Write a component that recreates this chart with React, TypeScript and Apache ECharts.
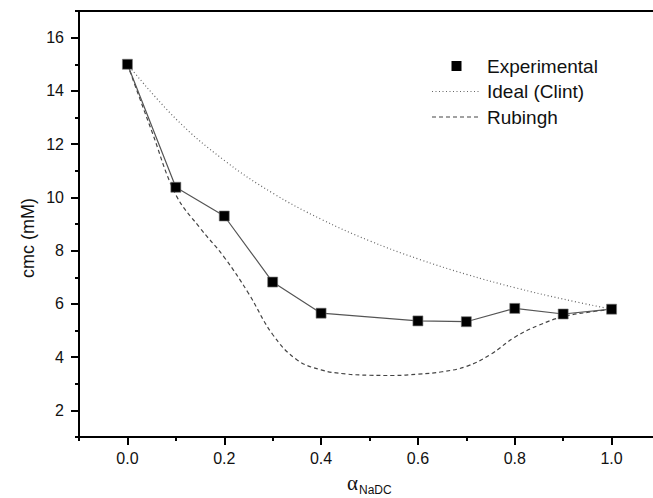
import React, { useEffect, useRef } from "react";
import * as echarts from "echarts";

// ---- data ----
const expX = [0.0, 0.1, 0.2, 0.3, 0.4, 0.6, 0.7, 0.8, 0.9, 1.0];
const expCmc = [15.0, 10.38, 9.3, 6.82, 5.65, 5.36, 5.33, 5.83, 5.62, 5.8];

const clintX = [0.0, 0.1, 0.2, 0.3, 0.4, 0.5, 0.6, 0.7, 0.8, 0.9, 1.0];
const clintCmc = [15.0, 12.95, 11.39, 10.16, 9.18, 8.37, 7.69, 7.11, 6.61, 6.18, 5.8];

const rubX = [0.0, 0.05, 0.1, 0.15, 0.2, 0.25, 0.3, 0.35, 0.4, 0.45, 0.5, 0.55, 0.6, 0.65, 0.7, 0.75, 0.8, 0.85, 0.9, 0.95, 1.0];
const rubCmc = [15.0, 12.5, 10.1, 8.85, 7.75, 6.4, 4.85, 3.9, 3.52, 3.37, 3.32, 3.31, 3.36, 3.45, 3.65, 4.1, 4.75, 5.2, 5.52, 5.68, 5.8];

const xMajorTicks = [0.0, 0.2, 0.4, 0.6, 0.8, 1.0];
const xMinorTicks = [-0.1, 0.1, 0.3, 0.5, 0.7, 0.9, 1.1];
const yMajorTicks = [2, 4, 6, 8, 10, 12, 14, 16];
const yMinorTicks = [1, 3, 5, 7, 9, 11, 13, 15, 17];

const legendNames = ["Experimental", "Ideal (Clint)", "Rubingh"];

const FONT = "Liberation Sans, Arial, sans-serif";

export default function App() {
  const ref = useRef<HTMLDivElement>(null);

  useEffect(() => {
    if (!ref.current) return;
    const chart = echarts.init(ref.current, undefined, { renderer: "svg" });

    const pairs = (xs: number[], ys: number[]) => xs.map((x, i) => [x, ys[i]]);

    const gridL = 79, gridT = 11, gridW = 581, gridH = 426;

    const option: any = {
      animation: false,
      backgroundColor: "#fff",
      grid: {
        left: gridL,
        top: gridT,
        width: gridW,
        height: gridH,
        show: true,
        borderColor: "#000",
        borderWidth: 2,
      },
      xAxis: [
        {
          type: "value",
          min: -0.1,
          max: 1.1,
          position: "bottom",
          axisLine: { show: true, onZero: false, lineStyle: { color: "#000", width: 2 } },
          axisTick: { show: true, customValues: xMajorTicks, length: 8, lineStyle: { color: "#000", width: 2 } },
          axisLabel: {
            show: true,
            customValues: xMajorTicks,
            formatter: (v: number) => v.toFixed(1),
            fontFamily: FONT,
            fontSize: 16,
            color: "#111",
            margin: 13,
          },
          splitLine: { show: false },
        },
        {
          type: "value",
          min: -0.1,
          max: 1.1,
          position: "bottom",
          axisLine: { show: false, onZero: false },
          axisTick: { show: true, customValues: xMinorTicks, length: 4, lineStyle: { color: "#000", width: 2 } },
          axisLabel: { show: false },
          splitLine: { show: false },
        },
      ],
      yAxis: [
        {
          type: "value",
          min: 1,
          max: 17,
          position: "left",
          axisLine: { show: true, onZero: false, lineStyle: { color: "#000", width: 2 } },
          axisTick: { show: true, customValues: yMajorTicks, length: 8, lineStyle: { color: "#000", width: 2 } },
          axisLabel: {
            show: true,
            customValues: yMajorTicks,
            fontFamily: FONT,
            fontSize: 16,
            color: "#111",
            margin: 15,
          },
          splitLine: { show: false },
        },
        {
          type: "value",
          min: 1,
          max: 17,
          position: "left",
          axisLine: { show: false, onZero: false },
          axisTick: { show: true, customValues: yMinorTicks, length: 4, lineStyle: { color: "#000", width: 2 } },
          axisLabel: { show: false },
          splitLine: { show: false },
        },
      ],
      series: [
        {
          name: legendNames[1],
          type: "line",
          data: pairs(clintX, clintCmc),
          smooth: 0.4,
          showSymbol: false,
          lineStyle: { color: "#666", width: 1.2, type: [1, 2.5] },
          z: 2,
        },
        {
          name: legendNames[2],
          type: "line",
          data: pairs(rubX, rubCmc),
          smooth: 0.4,
          showSymbol: false,
          lineStyle: { color: "#444", width: 1.2, type: [4, 3] },
          z: 2,
        },
        {
          name: legendNames[0],
          type: "line",
          data: pairs(expX, expCmc),
          symbol: "rect",
          symbolSize: 10,
          itemStyle: { color: "#000", borderColor: "#777", borderWidth: 0.6 },
          lineStyle: { color: "#555", width: 1.2 },
          z: 3,
        },
      ],
      graphic: [
        // legend
        { type: "rect", shape: { x: 451.5, y: 61, width: 10, height: 10 }, style: { fill: "#000" } },
        { type: "text", x: 487, y: 66, style: { text: legendNames[0], fontFamily: FONT, fontSize: 19, fill: "#111", verticalAlign: "middle" } },
        { type: "line", shape: { x1: 432, y1: 91.5, x2: 481, y2: 91.5 }, style: { stroke: "#666", lineWidth: 1.2, lineDash: [1, 2.5] } },
        { type: "text", x: 487, y: 91.5, style: { text: legendNames[1], fontFamily: FONT, fontSize: 19, fill: "#111", verticalAlign: "middle" } },
        { type: "line", shape: { x1: 432, y1: 117, x2: 481, y2: 117 }, style: { stroke: "#444", lineWidth: 1.2, lineDash: [4, 3] } },
        { type: "text", x: 487, y: 117, style: { text: legendNames[2], fontFamily: FONT, fontSize: 19, fill: "#111", verticalAlign: "middle" } },
        // y-axis title
        {
          type: "text",
          x: 27.5,
          y: 238,
          rotation: Math.PI / 2,
          style: { text: "cmc (mM)", fontFamily: FONT, fontSize: 18, fill: "#111", align: "center", verticalAlign: "middle" },
        },
        // x-axis title
        {
          type: "text",
          x: 347,
          y: 483,
          style: { text: "α", fontFamily: "Liberation Serif, serif", fontSize: 21, fill: "#111", align: "left", verticalAlign: "middle" },
        },
        {
          type: "text",
          x: 359,
          y: 490,
          style: { text: "NaDC", fontFamily: FONT, fontSize: 12, fill: "#111", align: "left", verticalAlign: "middle" },
        },
      ],
    };

    chart.setOption(option);
    return () => chart.dispose();
  }, []);

  return (
    <div
      style={{ position: "absolute", left: 0, top: 0, width: 653, height: 498, overflow: "hidden", background: "#fff" }}
    >
      <div ref={ref} style={{ position: "absolute", left: 0, top: 0, width: 680, height: 498 }} />
    </div>
  );
}
